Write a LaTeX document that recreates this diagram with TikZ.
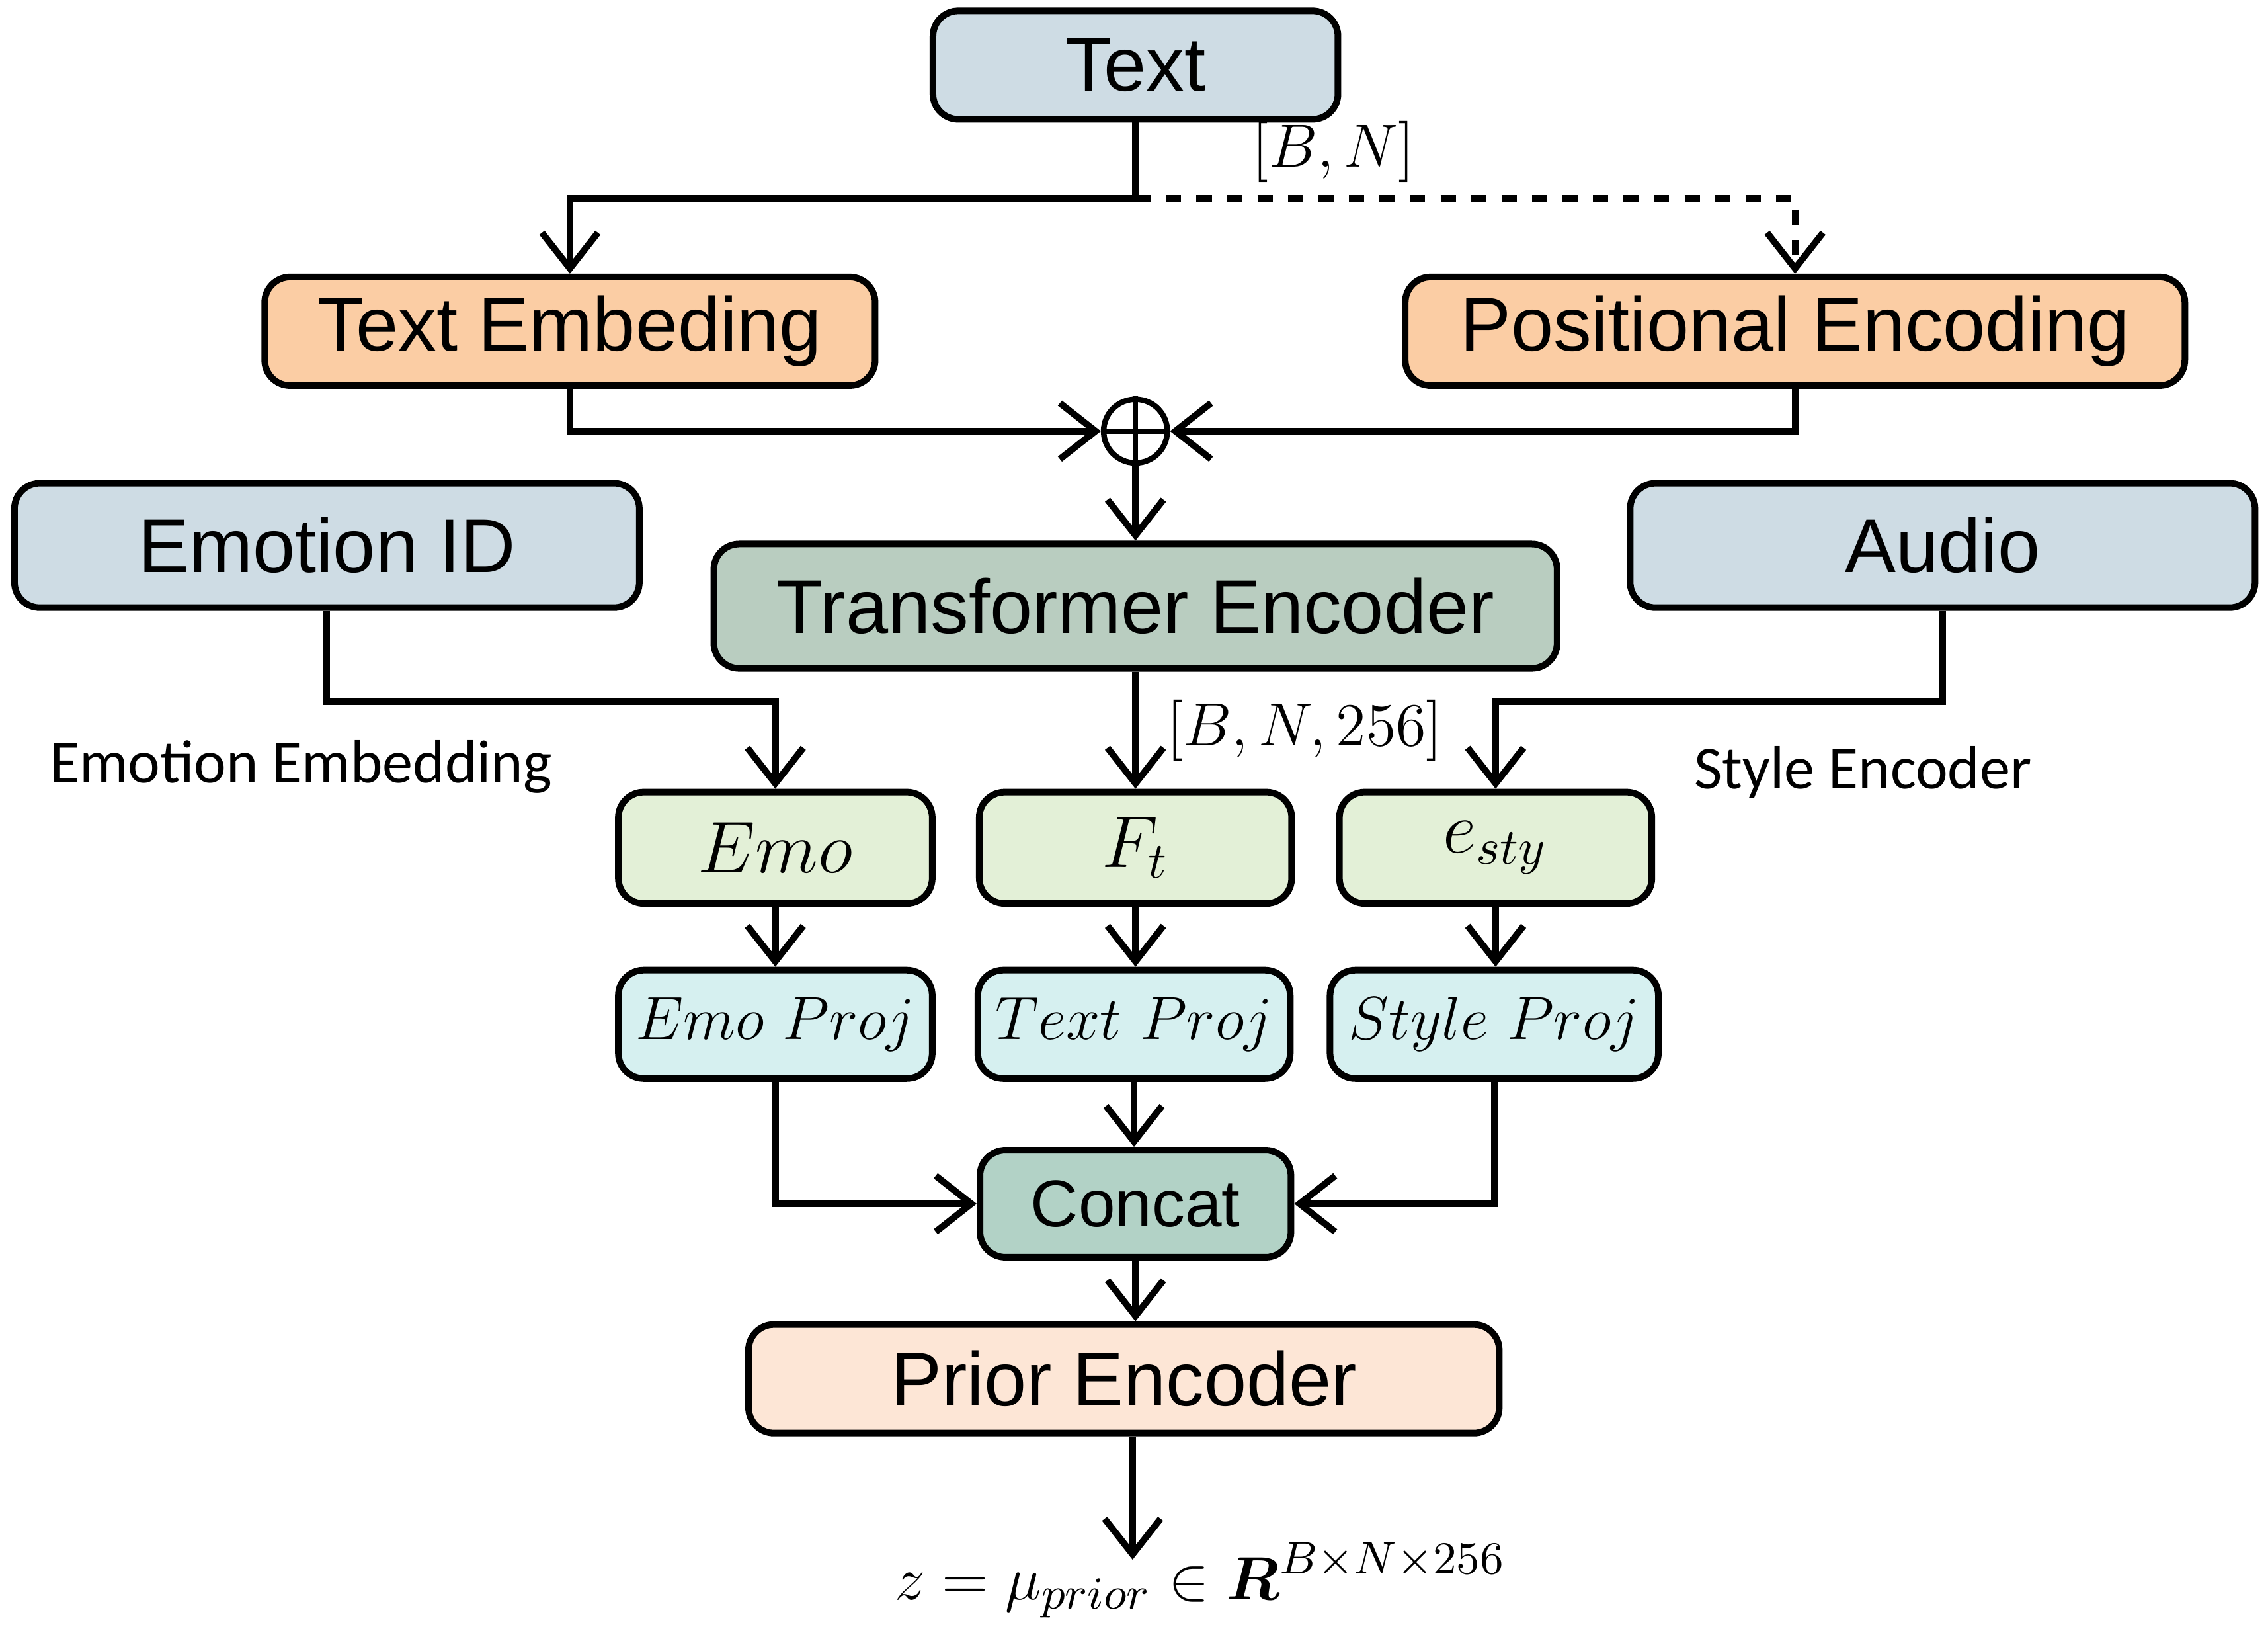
\documentclass[tikz,border=0pt]{standalone}
\usepackage{amsmath}
\usepackage{amssymb}
\usepackage{fontspec}
\setmainfont{Liberation Sans}
\newfontfamily\lblfont{Carlito}
\usetikzlibrary{arrows.meta}

\begin{document}
\begin{tikzpicture}[
    box/.style={draw=black, line width=1.3pt, rounded corners=5pt, align=center},
    arr/.style={line width=1.3pt, -{Straight Barb[length=7pt,width=11pt,line width=1.3pt]}},
    conn/.style={line width=1.3pt}
  ]
  % Define colors for blocks
  \definecolor{inputc}{RGB}{206,220,228}
  \definecolor{embc}{RGB}{251,205,164}
  \definecolor{encc}{RGB}{185,205,192}
  \definecolor{featc}{RGB}{227,240,215}
  \definecolor{projc}{RGB}{214,240,240}
  \definecolor{catc}{RGB}{178,210,198}
  \definecolor{priorc}{RGB}{253,230,214}

  \useasboundingbox (0,0) rectangle (15.68,-11.30);

  % Top inputs and embeddings
  \node[box, fill=inputc, minimum width=2.8cm, minimum height=0.75cm, font=\fontsize{15}{18}\selectfont] (text) at (7.85,-0.45) {Text};
  \node[box, fill=embc, minimum width=4.22cm, minimum height=0.75cm, font=\fontsize{15}{18}\selectfont] (temb) at (3.94,-2.29) {Text Embeding};
  \node[box, fill=embc, minimum width=5.39cm, minimum height=0.75cm, font=\fontsize{15}{18}\selectfont] (penc) at (12.41,-2.29) {Positional Encoding};
  \node[draw, circle, line width=1.1pt, inner sep=0pt, minimum size=0.44cm] (plus) at (7.85,-2.98) {};
  \draw[line width=1.1pt] (plus.north) -- (plus.south) (plus.west) -- (plus.east);

  % Second row
  \node[box, fill=inputc, minimum width=4.32cm, minimum height=0.86cm, font=\fontsize{15}{18}\selectfont] (emoid) at (2.26,-3.77) {Emotion ID};
  \node[box, fill=encc, minimum width=5.83cm, minimum height=0.86cm, font=\fontsize{15}{18}\selectfont] (trans) at (7.85,-4.19) {Transformer Encoder};
  \node[box, fill=inputc, minimum width=4.32cm, minimum height=0.86cm, font=\fontsize{15}{18}\selectfont] (audio) at (13.43,-3.77) {Audio};

  % Features and projections
  \node[box, fill=featc, minimum width=2.17cm, minimum height=0.77cm, font=\fontsize{14}{16}\selectfont] (emo) at (5.36,-5.86) {$Emo$};
  \node[box, fill=featc, minimum width=2.16cm, minimum height=0.77cm, font=\fontsize{14}{16}\selectfont] (ft) at (7.85,-5.86) {$F_t$};
  \node[box, fill=featc, minimum width=2.16cm, minimum height=0.77cm, font=\fontsize{14}{16}\selectfont] (esty) at (10.34,-5.86) {$e_{sty}$};
  \node[box, fill=projc, minimum width=2.17cm, minimum height=0.75cm, font=\fontsize{13}{15}\selectfont] (eproj) at (5.36,-7.08) {$Emo\ Proj$};
  \node[box, fill=projc, minimum width=2.16cm, minimum height=0.75cm, font=\fontsize{13}{15}\selectfont] (tproj) at (7.84,-7.08) {$Text\ Proj$};
  \node[box, fill=projc, minimum width=2.27cm, minimum height=0.75cm, font=\fontsize{13}{15}\selectfont] (sproj) at (10.33,-7.08) {$Style\ Proj$};

  % Fusion and prior
  \node[box, fill=catc, minimum width=2.15cm, minimum height=0.74cm, font=\fontsize{13}{15}\selectfont] (concat) at (7.85,-8.32) {Concat};
  \node[box, fill=priorc, minimum width=5.19cm, minimum height=0.75cm, font=\fontsize{15}{18}\selectfont] (prior) at (7.77,-9.53) {Prior Encoder};
  \coordinate (out) at (7.83,-10.78);

  % Labels
  \node[font=\lblfont\fontsize{12}{14}\selectfont] (lemo) at (2.08,-5.30) {Emotion Embedding};
  \node[font=\lblfont\fontsize{12}{14}\selectfont] (lsty) at (12.88,-5.34) {Style Encoder};
  \node[font=\fontsize{13}{15}\selectfont] (lbn) at (9.22,-1.05) {$[B,N]$};
  \node[font=\fontsize{13}{15}\selectfont] (lbn2) at (9.02,-5.05) {$[B,N,256]$};
  \node[font=\fontsize{13}{15}\selectfont] (lout) at (8.30,-10.92) {$z=\mu_{prior}\in\boldsymbol{R}^{B\times N\times 256}$};

  % Connectors
  \coordinate (split) at (7.85,-1.37);
  \draw[conn] (text) -- (split);
  \draw[arr] (split) -| (temb);
  \draw[arr, dashed] (split) -| (penc);
  \draw[arr] (temb) |- (plus);
  \draw[arr] (penc) |- (plus);
  \draw[arr] (plus) -- (trans);
  \draw[arr] (emoid) |- (5.36,-4.85) -- (emo);
  \draw[arr] (trans) -- (ft);
  \draw[arr] (audio) |- (10.34,-4.85) -- (esty);
  \draw[arr] (emo) -- (eproj);
  \draw[arr] (ft) -- (ft |- tproj.north);
  \draw[arr] (esty) -- (esty |- sproj.north);
  \draw[arr] (eproj) |- (concat);
  \draw[arr] (sproj) |- (concat);
  \draw[arr] (tproj) -- (tproj |- concat.north);
  \draw[arr] (concat) -- (concat |- prior.north);
  \draw[arr] (prior.south -| out) -- (out);
\end{tikzpicture}
\end{document}
